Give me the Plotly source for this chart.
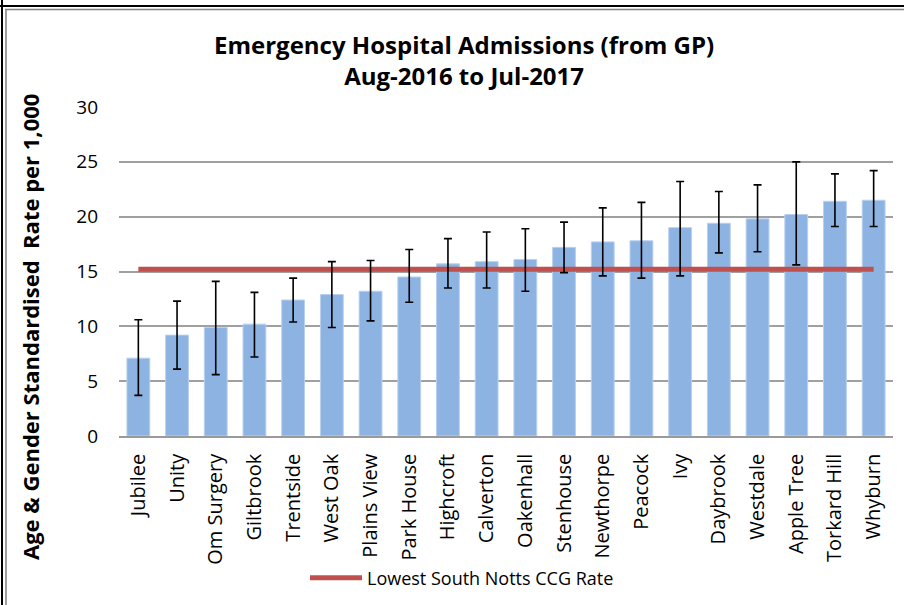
import plotly.graph_objects as go

practices = ["Jubilee", "Unity", "Om Surgery", "Giltbrook", "Trentside", "West Oak",
             "Plains View", "Park House", "Highcroft", "Calverton", "Oakenhall",
             "Stenhouse", "Newthorpe", "Peacock", "Ivy", "Daybrook", "Westdale",
             "Apple Tree", "Torkard Hill", "Whyburn"]
rates = [7.1, 9.2, 9.9, 10.2, 12.4, 12.9, 13.2, 14.5, 15.7, 15.9, 16.1,
         17.2, 17.7, 17.8, 19.0, 19.4, 19.8, 20.2, 21.4, 21.5]
ci_upper = [10.6, 12.3, 14.1, 13.1, 14.4, 15.9, 16.0, 17.0, 18.0, 18.6, 18.9,
            19.5, 20.8, 21.3, 23.2, 22.3, 22.9, 25.0, 23.9, 24.2]
ci_lower = [3.7, 6.1, 5.6, 7.2, 10.4, 9.9, 10.5, 12.2, 13.5, 13.5, 13.2,
            14.9, 14.6, 14.4, 14.6, 16.7, 16.8, 15.6, 19.1, 19.1]
lowest_ccg_rate = 15.2
y_ticks = [0, 5, 10, 15, 20, 25, 30]

FONT = "Open Sans"
err_plus = [u - v for u, v in zip(ci_upper, rates)]
err_minus = [v - l for v, l in zip(rates, ci_lower)]

fig = go.Figure()
fig.add_trace(go.Bar(
    x=practices, y=rates, showlegend=False,
    marker=dict(color="#8DB3E2", line=dict(color="#B9D1EE", width=1)),
    hoverinfo="x+y"))
fig.add_trace(go.Scatter(
    x=practices, y=[lowest_ccg_rate] * len(practices), mode="lines",
    name="Lowest South Notts CCG Rate",
    line=dict(color="#C0504D", width=5)))
fig.add_trace(go.Scatter(
    x=practices, y=rates, mode="markers", showlegend=False,
    marker=dict(size=1, color="rgba(0,0,0,0)"),
    error_y=dict(type="data", symmetric=False, array=err_plus, arrayminus=err_minus,
                 color="black", thickness=1.6, width=4)))

L, R, T, B = 119, 11, 107, 169
W, H = 904, 605
pw, ph = W - L - R, H - T - B

def px(xp):
    return (xp - L) / pw

def py(yp):
    return (H - B - yp) / ph

fig.update_layout(
    width=W, height=H,
    margin=dict(l=L, r=R, t=T, b=B, pad=0, autoexpand=False),
    paper_bgcolor="white", plot_bgcolor="white",
    font=dict(family=FONT, color="black", size=18),
    bargap=0.41,
    showlegend=True,
    legend=dict(orientation="h", x=px(305), xanchor="left", y=py(578), yanchor="middle",
                font=dict(size=18, family=FONT), bgcolor="rgba(0,0,0,0)", itemwidth=52),
    xaxis=dict(range=[-0.5, len(practices) - 0.5], showgrid=False, showline=True,
               linecolor="#9A9A9A", linewidth=1.5,
               tickangle=-90, ticks="", tickfont=dict(size=20, family=FONT),
               ticklabelstandoff=8),
    yaxis=dict(range=[0, 30], tickmode="array", tickvals=y_ticks, showgrid=True,
               gridcolor="#A0A0A0", gridwidth=1.5, zeroline=False, showline=False,
               ticks="", tickfont=dict(size=19, family=FONT), ticklabelstandoff=20),
    annotations=[
        dict(text="<b>Emergency Hospital Admissions (from GP)</b><br><b>Aug-2016 to Jul-2017</b>",
             x=px(464), y=py(60), xref="paper", yref="paper", showarrow=False,
             xanchor="center", yanchor="middle", font=dict(size=24, family=FONT)),
        dict(text="<b>Age &amp; Gender Standardised  Rate per 1,000</b>",
             x=px(30), y=py(327), xref="paper", yref="paper", showarrow=False,
             textangle=-90, xanchor="center", yanchor="middle",
             font=dict(size=22, family=FONT)),
    ],
    shapes=[
        dict(type="line", xref="paper", yref="paper", x0=px(0), x1=px(904), y0=py(6), y1=py(6),
             line=dict(color="black", width=2)),
        dict(type="line", xref="paper", yref="paper", x0=px(5), x1=px(904), y0=py(9.5), y1=py(9.5),
             line=dict(color="#808080", width=1.5)),
        dict(type="line", xref="paper", yref="paper", x0=px(2), x1=px(2), y0=py(0), y1=py(605),
             line=dict(color="black", width=2)),
        dict(type="line", xref="paper", yref="paper", x0=px(6), x1=px(6), y0=py(9.5), y1=py(605),
             line=dict(color="#808080", width=1.5)),
    ],
)

fig.write_html("out.html", config={"displayModeBar": False},
               post_script="document.body.style.margin='0';document.body.style.overflow='hidden';")
